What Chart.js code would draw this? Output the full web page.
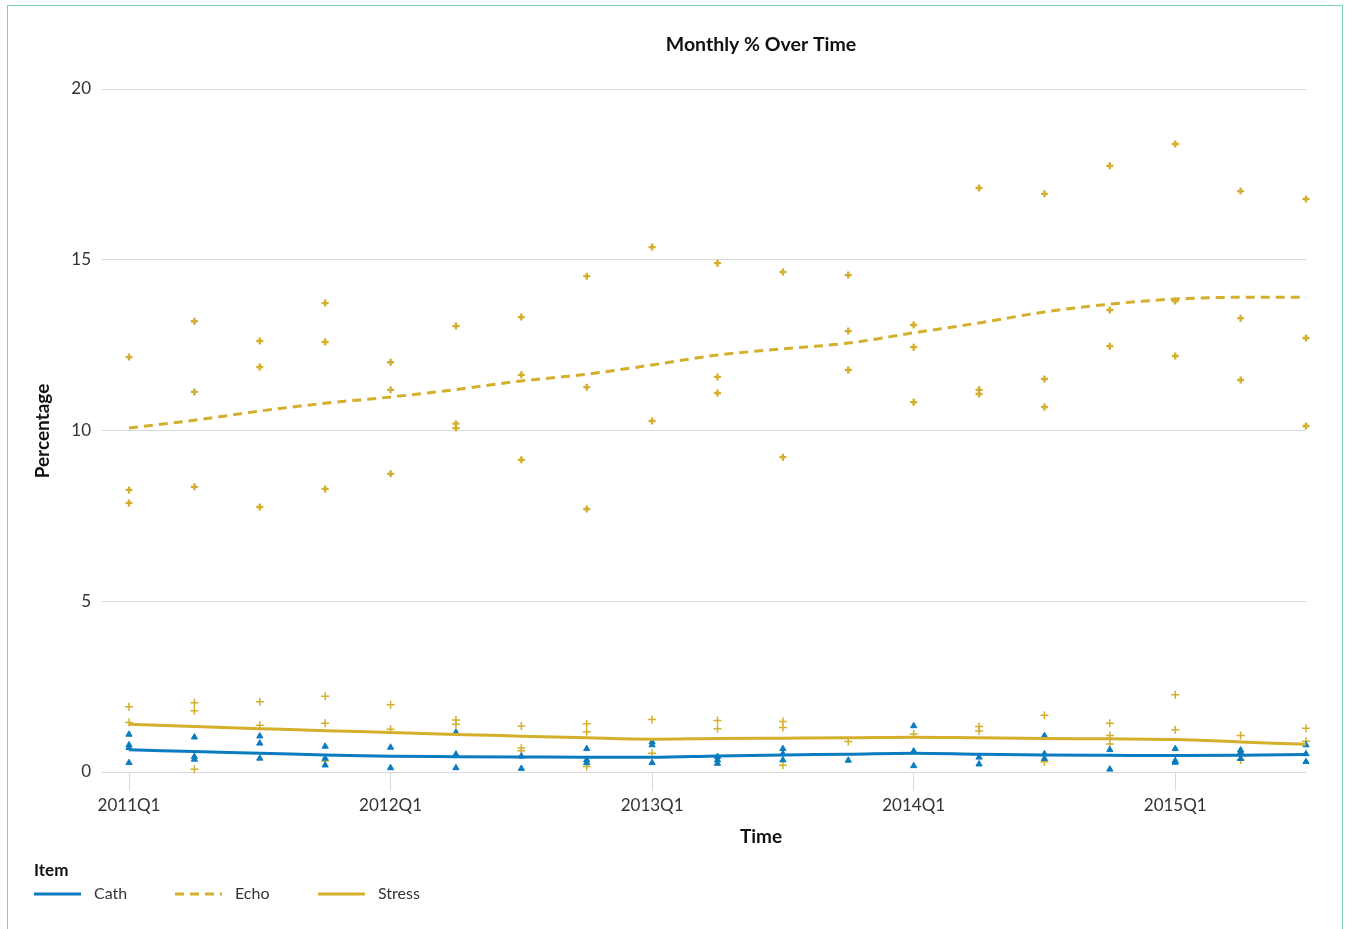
<!DOCTYPE html>
<html>
<head>
<meta charset="utf-8">
<script src="https://cdn.jsdelivr.net/npm/chart.js@4"></script>
<style>
  html, body { margin: 0; padding: 0; background: #fff; }
  #wrap { position: relative; width: 1349px; height: 929px; overflow: hidden; }
  #frame { position: absolute; left: 7px; top: 5px; width: 1334px; height: 940px;
           border: 1px solid #7dd3b6; pointer-events: none; }
  canvas { position: absolute; left: 0; top: 0; }
</style>
</head>
<body>
<div id="wrap">
  <canvas id="c" width="1349" height="929"></canvas>
  <div id="frame"></div>
</div>
<script>
// ---- data ----
const quarterLabels = ["2011Q1","2011Q2","2011Q3","2011Q4","2012Q1","2012Q2","2012Q3","2012Q4",
  "2013Q1","2013Q2","2013Q3","2013Q4","2014Q1","2014Q2","2014Q3","2014Q4","2015Q1","2015Q2","2015Q3"];
const xTickQuarters = ["2011Q1","2012Q1","2013Q1","2014Q1","2015Q1"];
const yTicks = [0, 5, 10, 15, 20];

// monthly values per quarter
const echoMonthly = [
  [12.15, 8.26, 7.88], [13.2, 11.13, 8.35], [12.62, 11.86, 7.76], [13.73, 12.59, 8.29],
  [12.0, 11.19, 8.73], [13.06, 10.2, 10.07], [13.32, 11.63, 9.14], [14.52, 11.27, 7.70],
  [15.37, 10.28], [14.9, 11.57, 11.1], [14.64, 9.22], [14.55, 12.91, 11.77],
  [13.09, 12.44, 10.83], [17.1, 11.19, 11.07], [16.93, 11.51, 10.69], [17.75, 13.53, 12.47],
  [18.39, 13.79, 12.18], [17.01, 13.29, 11.48], [16.78, 12.71, 10.13]
];
const stressMonthly = [
  [1.91, 1.45], [2.03, 1.79, 0.08], [2.06, 1.37], [2.22, 1.43, 0.32],
  [1.97, 1.25], [1.52, 1.40], [1.35, 0.70, 0.62], [1.41, 1.18, 0.16],
  [1.54, 0.55], [1.51, 1.27], [1.48, 1.30, 0.20], [0.89],
  [1.11], [1.33, 1.20], [1.66, 0.30], [1.43, 1.07, 0.82],
  [2.26, 1.24], [1.07, 0.35], [1.28, 0.90]
];
const cathMonthly = [
  [1.10, 0.79, 0.71, 0.27], [1.02, 0.45, 0.37], [1.05, 0.84, 0.40], [0.75, 0.40, 0.20],
  [0.72, 0.12], [1.16, 0.52, 0.12], [0.46, 0.10], [0.68, 0.35, 0.27],
  [0.88, 0.79, 0.27], [0.45, 0.35, 0.25], [0.68, 0.53, 0.35], [0.34],
  [1.35, 0.61, 0.18], [0.43, 0.23], [1.06, 0.53, 0.39], [0.65, 0.08],
  [0.68, 0.33, 0.28], [0.64, 0.58, 0.39], [0.79, 0.53, 0.30]
];

// smoothed trend per quarter
const echoTrend = [10.07, 10.3, 10.57, 10.8, 10.98, 11.2, 11.45, 11.65, 11.92, 12.21,
  12.39, 12.56, 12.86, 13.15, 13.47, 13.7, 13.85, 13.9, 13.9];
const stressTrend = [1.40, 1.33, 1.27, 1.21, 1.16, 1.10, 1.05, 1.00, 0.96, 0.98,
  0.99, 1.00, 1.02, 1.00, 0.98, 0.97, 0.95, 0.88, 0.81];
const cathTrend = [0.65, 0.60, 0.55, 0.50, 0.46, 0.45, 0.44, 0.43, 0.43, 0.47,
  0.50, 0.52, 0.55, 0.52, 0.50, 0.49, 0.48, 0.49, 0.51];

const seriesNames = ["Cath", "Echo", "Stress"];
const legendTitle = "Item";
const chartTitle = "Monthly % Over Time";
const xTitle = "Time";
const yTitle = "Percentage";

// ---- styling ----
const BLUE = "#0a7bbf";
const GOLD = "#d3af2b";
const FONT = "Lato, 'Open Sans', sans-serif";

function toPoints(monthly) {
  const out = [];
  monthly.forEach((vals, qi) => vals.forEach(v => out.push({ x: qi, y: v })));
  return out;
}
function toLine(trend) { return trend.map((v, qi) => ({ x: qi, y: v })); }

const overlay = {
  id: "overlay",
  afterDraw(chart) {
    const ctx = chart.ctx;
    ctx.save();
    ctx.fillStyle = "#111";
    ctx.textBaseline = "middle";
    // title
    ctx.font = "bold 19.5px " + FONT;
    ctx.textAlign = "center";
    ctx.fillText(chartTitle, 761, 45);
    // x title
    ctx.font = "bold 19px " + FONT;
    ctx.fillText(xTitle, 761, 837);
    // y title
    ctx.save();
    ctx.translate(43, 431);
    ctx.rotate(-Math.PI / 2);
    ctx.fillText(yTitle, 0, 0);
    ctx.restore();
    // legend
    ctx.textAlign = "left";
    ctx.font = "bold 17px " + FONT;
    ctx.fillText(legendTitle, 34, 871);
    const items = [
      { name: seriesNames[0], color: BLUE, dash: [], x: 34 },
      { name: seriesNames[1], color: GOLD, dash: [9, 6], x: 175 },
      { name: seriesNames[2], color: GOLD, dash: [], x: 318 }
    ];
    ctx.font = "16px " + FONT;
    items.forEach(it => {
      ctx.beginPath();
      ctx.setLineDash(it.dash);
      ctx.strokeStyle = it.color;
      ctx.lineWidth = 3;
      ctx.moveTo(it.x, 894);
      ctx.lineTo(it.x + 47, 894);
      ctx.stroke();
      ctx.setLineDash([]);
      ctx.fillStyle = "#333";
      ctx.fillText(it.name, it.x + 60, 894);
    });
    ctx.restore();
  }
};

new Chart(document.getElementById("c"), {
  type: "scatter",
  data: {
    datasets: [
      { label: "Cath trend", type: "line", data: toLine(cathTrend), borderColor: BLUE, borderWidth: 3,
        pointRadius: 0, fill: false, tension: 0.4, cubicInterpolationMode: "monotone", order: 0, clip: false },
      { label: "Echo trend", type: "line", data: toLine(echoTrend), borderColor: GOLD, borderWidth: 3,
        borderDash: [9, 6], pointRadius: 0, fill: false, tension: 0.4, cubicInterpolationMode: "monotone", order: 0, clip: false },
      { label: "Stress trend", type: "line", data: toLine(stressTrend), borderColor: GOLD, borderWidth: 3,
        pointRadius: 0, fill: false, tension: 0.4, cubicInterpolationMode: "monotone", order: 0, clip: false },
      { label: "Cath", data: toPoints(cathMonthly), pointStyle: "triangle", pointRadius: 3.6,
        backgroundColor: BLUE, borderColor: BLUE, borderWidth: 1, order: 1, clip: false },
      { label: "Echo", data: toPoints(echoMonthly), pointStyle: "cross", pointRadius: 3.5,
        borderColor: GOLD, backgroundColor: GOLD, borderWidth: 2.4, order: 1, clip: false },
      { label: "Stress", data: toPoints(stressMonthly), pointStyle: "cross", pointRadius: 4,
        borderColor: GOLD, backgroundColor: GOLD, borderWidth: 1.5, order: 1, clip: false }
    ]
  },
  options: {
    responsive: false,
    animation: false,
    devicePixelRatio: 1,
    layout: { padding: { left: 0, top: 89, right: 43, bottom: 0 } },
    plugins: { legend: { display: false }, tooltip: { enabled: false }, title: { display: false } },
    scales: {
      x: {
        type: "linear",
        min: -0.413,
        max: quarterLabels.length - 1,
        afterBuildTicks: (s) => { s.ticks = xTickQuarters.map(q => ({ value: quarterLabels.indexOf(q) })); },
        afterFit: (s) => { s.height = 929 - 772; },
        ticks: {
          callback: (v) => quarterLabels[Math.round(v)],
          font: { family: FONT, size: 17 }, color: "#333", padding: 4, maxRotation: 0, autoSkip: false
        },
        grid: { drawOnChartArea: false, drawTicks: true, tickLength: 19, color: "#d9d9d9", lineWidth: 1 },
        border: { display: false }
      },
      y: {
        min: yTicks[0],
        max: yTicks[yTicks.length - 1],
        afterBuildTicks: (s) => { s.ticks = yTicks.map(v => ({ value: v })); },
        afterFit: (s) => { s.width = 102; },
        ticks: { font: { family: FONT, size: 17 }, color: "#333", padding: 11 },
        grid: { color: "#d9d9d9", lineWidth: 1, drawTicks: false },
        border: { display: false }
      }
    }
  },
  plugins: [overlay]
});
</script>
</body>
</html>
